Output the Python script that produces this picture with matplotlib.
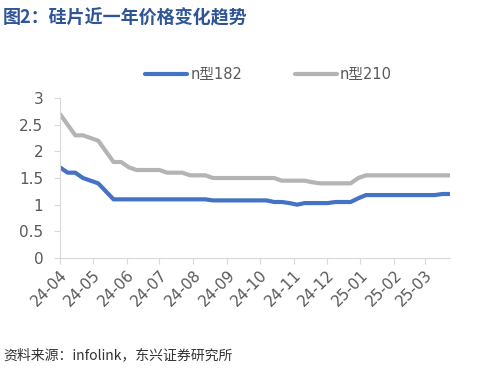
import numpy as np
import pandas as pd
import matplotlib
import matplotlib.pyplot as plt
import matplotlib.dates as mdates

matplotlib.use("Agg")
plt.rcParams["font.family"] = ["DejaVu Sans", "Noto Sans CJK SC"]

# weekly quotes, RMB / piece
dates = pd.date_range("2024-04-01", periods=52, freq="7D")
n182 = [1.70, 1.60, 1.60, 1.50, 1.45, 1.40, 1.25, 1.10, 1.10, 1.10,
        1.10, 1.10, 1.10, 1.10, 1.10, 1.10, 1.10, 1.10, 1.10, 1.10,
        1.08, 1.08, 1.08, 1.08, 1.08, 1.08, 1.08, 1.08, 1.05, 1.05,
        1.03, 1.00, 1.03, 1.03, 1.03, 1.03, 1.05, 1.05, 1.05, 1.12,
        1.18, 1.18, 1.18, 1.18, 1.18, 1.18, 1.18, 1.18, 1.18, 1.18,
        1.20, 1.20]
n210 = [2.70, 2.50, 2.30, 2.30, 2.25, 2.20, 2.00, 1.80, 1.80, 1.70,
        1.65, 1.65, 1.65, 1.65, 1.60, 1.60, 1.60, 1.55, 1.55, 1.55,
        1.50, 1.50, 1.50, 1.50, 1.50, 1.50, 1.50, 1.50, 1.50, 1.45,
        1.45, 1.45, 1.45, 1.42, 1.40, 1.40, 1.40, 1.40, 1.40, 1.50,
        1.55, 1.55, 1.55, 1.55, 1.55, 1.55, 1.55, 1.55, 1.55, 1.55,
        1.55, 1.55]
labels = ["n型182", "n型210"]
yticks = [0, 0.5, 1, 1.5, 2, 2.5, 3]

fig = plt.figure(figsize=(4.81, 3.69), dpi=100)
ax = fig.add_axes([0.1247, 0.3008, 0.811, 0.4336])

ax.plot(dates, n182, color="#4472C4", lw=3, label=labels[0], solid_capstyle="round")
ax.plot(dates, n210, color="#B4B4B4", lw=3, label=labels[1], solid_capstyle="round")

ax.set_xlim(dates[0], dates[-1])
ax.set_ylim(0, 3)
ax.set_yticks(yticks)
ax.set_yticklabels([f"{v:g}" for v in yticks])

ax.xaxis.set_major_locator(mdates.MonthLocator())
ax.xaxis.set_major_formatter(mdates.DateFormatter("%y-%m"))
for lab in ax.get_xticklabels():
    lab.set_rotation(45)
    lab.set_ha("right")
    lab.set_rotation_mode("anchor")

for side in ("top", "right"):
    ax.spines[side].set_visible(False)
for side in ("left", "bottom"):
    ax.spines[side].set_color("#D9D9D9")
ax.tick_params(axis="both", colors="#D9D9D9", labelcolor="#595959",
               labelsize=11, length=4, direction="out")
ax.tick_params(axis="x", pad=3)
ax.tick_params(axis="y", pad=8)

leg = fig.legend(loc="center left", bbox_to_anchor=(0.3015, 0.797), ncol=2,
                 frameon=False, fontsize=10.5, handlelength=2.9,
                 handletextpad=0.2, columnspacing=3.6,
                 borderpad=0, borderaxespad=0)
for t in leg.get_texts():
    t.set_color("#595959")

fig.text(0.006, 0.952, "图2：硅片近一年价格变化趋势", fontsize=13, fontweight="bold",
         color="#2F5597", va="center", ha="left",
         family=["Noto Sans CJK SC", "DejaVu Sans"])
fig.text(0.006, 0.038, "资料来源：infolink，东兴证券研究所", fontsize=10,
         style="italic", color="#333333", va="center", ha="left",
         family=["Noto Sans CJK SC", "DejaVu Sans"])

fig.savefig("out.png", dpi=100)
